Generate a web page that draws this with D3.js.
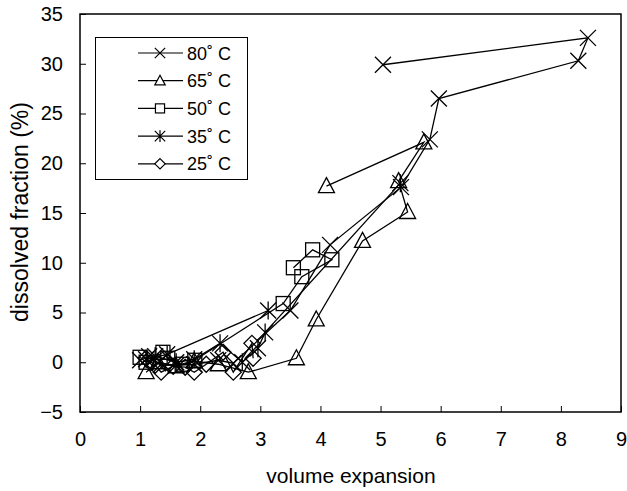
<!DOCTYPE html>
<html><head><meta charset="utf-8">
<script src="https://cdn.jsdelivr.net/npm/d3@7"></script>
<style>body{margin:0;background:#fff}svg{display:block}text{font-family:"Liberation Sans",Arial,sans-serif;fill:#000}</style>
</head><body><svg id="c" width="627" height="491"></svg>
<script>
const seriesNames = ["80˚ C","65˚ C","50˚ C","35˚ C","25˚ C"];
const markerTypes = ["x","triangle","square","asterisk","diamond"];
const x80 = [1.0,1.15,1.3,1.6,1.9,2.3,2.55,3.5,4.16,5.34,5.82,5.97,8.29,8.45,5.04];
const y80 = [0.2,0.6,-0.1,-0.3,-0.2,0.2,-0.1,5.2,11.8,17.6,22.4,26.5,30.3,32.6,29.9];
const x65 = [1.1,1.3,1.6,1.9,2.3,2.8,3.6,3.93,4.7,5.45,5.3,5.72,4.1];
const y65 = [-1.0,0.0,-0.4,0.1,-0.2,-1.0,0.4,4.3,12.2,15.1,18.2,22.1,17.7];
const x50 = [1.0,1.1,1.38,1.46,1.7,1.91,3.38,3.69,4.19,3.87,3.55];
const y50 = [0.5,0.0,1.0,0.4,-0.2,0.2,5.9,8.6,10.3,11.3,9.5];
const x35 = [3.13,1.45,1.1,1.25,1.6,1.9,2.33,2.7,2.96,3.08,5.33];
const y35 = [5.2,0.8,0.3,0.6,0.0,0.3,1.9,0.0,1.4,3.0,18.0];
const x25 = [1.1,1.25,1.35,1.55,1.75,1.9,2.1,2.38,2.55,2.86,2.88];
const y25 = [0.4,-0.3,-1.0,-0.4,-0.5,-1.0,-0.2,1.0,-1.0,1.9,0.4];
const xTicks = [0,1,2,3,4,5,6,7,8,9];
const yTicks = [-5,0,5,10,15,20,25,30,35];

const xs = [x80,x65,x50,x35,x25], ys = [y80,y65,y50,y35,y25];
const series = seriesNames.map((n,i)=>({name:n, marker:markerTypes[i], pts: xs[i].map((v,j)=>[v, ys[i][j]])}));

const svg = d3.select("#c");
const L=80, R=621, T=14, B=412;
const x = d3.scaleLinear().domain([0,9]).range([L,R]);
const y = d3.scaleLinear().domain([-5,35]).range([B,T]);

const gx = svg.append("g").attr("transform",`translate(0,${B})`)
  .call(d3.axisBottom(x).tickValues(xTicks).tickSize(-6).tickPadding(20).tickFormat(d3.format("d")));
const gy = svg.append("g").attr("transform",`translate(${L},0)`)
  .call(d3.axisLeft(y).tickValues(yTicks).tickSize(-6).tickPadding(17).tickFormat(d3.format("d")));
[gx,gy].forEach(g=>{
  g.select(".domain").remove();
  g.selectAll("line").attr("stroke","#000").attr("stroke-width",1);
  g.selectAll("text").style("font-size","20px").attr("font-family","Liberation Sans, Arial, sans-serif");
});
svg.append("rect").attr("x",L).attr("y",T).attr("width",R-L).attr("height",B-T)
  .attr("fill","none").attr("stroke","#000").attr("stroke-width",1.5);

function marker(g, type, cx, cy){
  const s=8;
  if(type==="x"||type==="asterisk"){
    g.append("path").attr("d",`M${cx-s},${cy-s}L${cx+s},${cy+s}M${cx-s},${cy+s}L${cx+s},${cy-s}`+(type==="asterisk"?`M${cx},${cy-s-1}L${cx},${cy+s+1}`:""));
  } else if(type==="triangle"){
    g.append("path").attr("d",`M${cx},${cy-8.5}L${cx+8},${cy+6.5}L${cx-8},${cy+6.5}Z`);
  } else if(type==="square"){
    g.append("rect").attr("x",cx-7).attr("y",cy-7).attr("width",14).attr("height",14);
  } else if(type==="diamond"){
    g.append("path").attr("d",`M${cx},${cy-8}L${cx+8},${cy}L${cx},${cy+8}L${cx-8},${cy}Z`);
  }
}

const line = d3.line().x(d=>x(d[0])).y(d=>y(d[1]));
const plot = svg.append("g");
series.slice().reverse().forEach(s=>{
  plot.append("path").attr("d",line(s.pts)).attr("fill","none").attr("stroke","#000").attr("stroke-width",1.3);
  const mg = plot.append("g").attr("fill","none").attr("stroke","#000").attr("stroke-width",1.3);
  s.pts.forEach(p=>marker(mg, s.marker, x(p[0]), y(p[1])));
});

const lg = svg.append("g");
lg.append("rect").attr("x",95.5).attr("y",37.5).attr("width",152).attr("height",142)
  .attr("fill","#fff").attr("stroke","#000").attr("stroke-width",1);
series.forEach((s,i)=>{
  const cy = 53 + i*27.7;
  lg.append("line").attr("x1",138).attr("x2",183).attr("y1",cy).attr("y2",cy).attr("stroke","#000").attr("stroke-width",1.2);
  const mg = lg.append("g").attr("fill","#fff").attr("stroke","#000").attr("stroke-width",1.2);
  const sc = 0.65;
  const g2 = mg.append("g").attr("transform",`translate(160,${cy}) scale(${sc})`);
  marker(g2, s.marker, 0, 0);
  g2.selectAll("*").attr("stroke-width",1.2/sc);
  lg.append("text").attr("x",187).attr("y",cy+6.5).style("font-size","18px").text(s.name);
});

svg.append("text").attr("x",351).attr("y",483).attr("text-anchor","middle").style("font-size","21px").text("volume expansion");
svg.append("text").attr("transform","translate(28,212) rotate(-90)").attr("text-anchor","middle").style("font-size","23px").text("dissolved fraction (%)");
</script></body></html>
